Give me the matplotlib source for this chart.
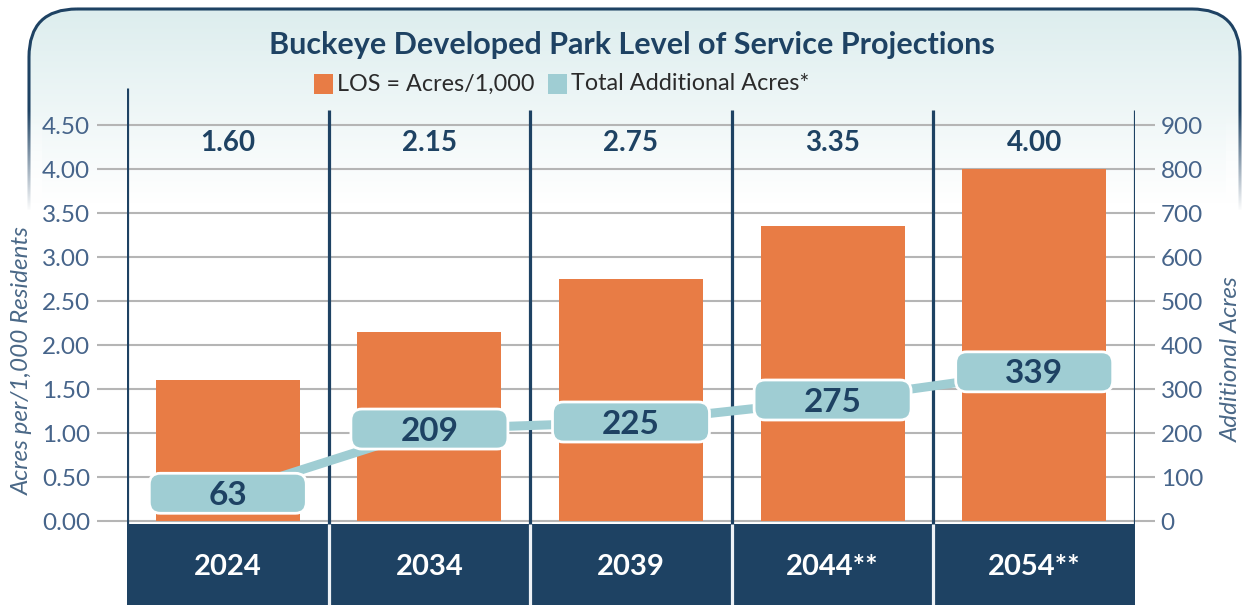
import matplotlib
matplotlib.use("Agg")
import matplotlib.pyplot as plt
import numpy as np
from matplotlib.patches import FancyBboxPatch, Rectangle

# ---- data -------------------------------------------------------------
years = ["2024", "2034", "2039", "2044**", "2054**"]
los_acres_per_1000 = [1.60, 2.15, 2.75, 3.35, 4.00]
total_additional_acres = [63, 209, 225, 275, 339]
left_ticks = [0.0, 0.5, 1.0, 1.5, 2.0, 2.5, 3.0, 3.5, 4.0, 4.5]
right_ticks = [0, 100, 200, 300, 400, 500, 600, 700, 800, 900]

title = "Buckeye Developed Park Level of Service Projections"
legend_los = "LOS = Acres/1,000"
legend_add = "Total Additional Acres*"
left_label = "Acres per/1,000 Residents"
right_label = "Additional Acres"

# ---- style ------------------------------------------------------------
NAVY = "#1e4263"
ORANGE = "#e87c45"
TEAL = "#9fcdd3"
GRID = "#b5b5b5"
TICK_TXT = "#46648a"
FONT = "Lato"

plt.rcParams["font.family"] = [FONT, "DejaVu Sans"]

W, H = 1244, 605
fig = plt.figure(figsize=(W / 100, H / 100), dpi=100)


def fx(px):
    return px / W


def fy(py):
    return 1 - py / H


# ---- rounded background panel with a soft top gradient ----------------
bg = fig.add_axes([0, 0, 1, 1], zorder=0)
bg.set_xlim(0, W)
bg.set_ylim(H, 0)
bg.axis("off")

top_col = np.array([0.865, 0.930, 0.933])
rows = np.arange(H)
t = np.clip((rows - 8) / 195.0, 0, 1)[:, None]
grad = top_col * (1 - t) + np.ones(3) * t
img = bg.imshow(grad[:, None, :], extent=[29, 1240, H, 0], aspect="auto",
                interpolation="bilinear", zorder=0)
panel_clip = FancyBboxPatch((29, 9), 1211, 800,
                            boxstyle="round,pad=0,rounding_size=48",
                            fc="none", ec="none", transform=bg.transData)
bg.add_patch(panel_clip)
img.set_clip_path(panel_clip)

border = FancyBboxPatch((29, 9), 1211, 800,
                        boxstyle="round,pad=0,rounding_size=48",
                        fc="none", ec=NAVY, lw=2.2, zorder=1)
bg.add_patch(border)

# fade the side edges of the border out towards the bottom
fade = np.ones((H, 1, 4))
fade[:, 0, 3] = np.clip((rows - 110) / 100.0, 0, 1)
for x0, x1 in [(18, 42), (1226, 1252)]:
    bg.imshow(fade, extent=[x0, x1, H, 0], aspect="auto",
              interpolation="bilinear", zorder=2)
bg.set_xlim(0, W)
bg.set_ylim(H, 0)

# ---- main axes ---------------------------------------------------------
px_zero, px_top_tick = 521, 125
unit_px = (px_zero - px_top_tick) / 4.5
y_lo = -(H - px_zero) / unit_px
y_hi = (px_zero - 88) / unit_px

ax = fig.add_axes([fx(127), fy(605), fx(1135) - fx(127), fy(88) - fy(605)],
                  zorder=2)
ax.patch.set_visible(False)
ax.set_xlim(-0.5, 4.5)
ax.set_ylim(y_lo, y_hi)
for s in ax.spines.values():
    s.set_visible(False)
ax.set_xticks([])

scale = right_ticks[-1] / left_ticks[-1]
ax2 = ax.twinx()
ax2.set_ylim(y_lo * scale, y_hi * scale)
for s in ax2.spines.values():
    s.set_visible(False)
ax2.set_xticks([])

ax.set_yticks(left_ticks)
ax.set_yticklabels([f"{v:.2f}" for v in left_ticks])
ax.tick_params(axis="y", length=21.6, width=1.5, color=GRID, pad=5,
               labelsize=17.5, labelcolor=TICK_TXT)
ax2.set_yticks(right_ticks)
ax2.set_yticklabels([str(v) for v in right_ticks])
ax2.tick_params(axis="y", length=14.4, width=1.5, color=GRID, pad=4,
                labelsize=17.5, labelcolor=TICK_TXT)

for v in left_ticks:
    ax.axhline(v, color=GRID, lw=1.5, zorder=1)

x = np.arange(len(years))

# bars
ax.bar(x, los_acres_per_1000, width=0.715, color=ORANGE, zorder=2)

# value labels above each column
label_y = (px_zero - 143) / unit_px
for xi, v in zip(x, los_acres_per_1000):
    ax.text(xi, label_y, f"{v:.2f}", ha="center", va="center",
            fontsize=20, fontweight="bold", color=NAVY, zorder=6)

# column dividers
bounds = np.arange(-0.5, len(years) + 0.5, 1.0)
div_top = (px_zero - 110) / unit_px
band_top = -(524 - px_zero) / unit_px
ax.vlines(bounds[1:], band_top, div_top, color=NAVY, lw=2.3, zorder=3)
ax.vlines(bounds[:1], band_top, y_hi, color=NAVY, lw=2.3, zorder=3)

# year band along the bottom
ax.add_patch(Rectangle((-0.5, y_lo), len(years), band_top - y_lo,
                       fc=NAVY, ec="none", zorder=4))
ax.vlines(bounds[1:-1], y_lo, band_top, color="#eef2f6", lw=2.3, zorder=5)
year_y = -(567 - px_zero) / unit_px
for xi, yr in zip(x, years):
    ax.text(xi, year_y, yr, ha="center", va="center", fontsize=21,
            fontweight="bold", color="white", zorder=6)

# additional acres line with rounded value boxes
ax2.plot(x, total_additional_acres, color=TEAL, lw=6.5, zorder=3,
         solid_capstyle="butt")

fig.canvas.draw()
bbox = ax.get_window_extent()
px_per_x = bbox.width / 5.0
ylo2, yhi2 = ax2.get_ylim()
px_per_y2 = bbox.height / (yhi2 - ylo2)
box_w = 157 / px_per_x
box_h = 40 / px_per_y2
for xi, v in zip(x, total_additional_acres):
    ax2.add_patch(FancyBboxPatch(
        (xi - box_w / 2, v - box_h / 2), box_w, box_h,
        boxstyle=f"round,pad=0,rounding_size={11 / px_per_x}",
        mutation_aspect=px_per_x / px_per_y2,
        fc=TEAL, ec="white", lw=2.0, zorder=4))
    ax2.text(xi, v - 2 / px_per_y2, str(v), ha="center", va="center",
             fontsize=24, fontweight="bold", color=NAVY, zorder=5)

# ---- titles, legend, axis names ---------------------------------------
fig.text(fx(632), fy(45), title, ha="center", va="center", fontsize=22,
         fontweight="bold", color=NAVY)

leg_y = 84
fig.patches.append(Rectangle((fx(314), fy(leg_y + 9.5)), 19 / W, 19 / H,
                             transform=fig.transFigure, fc=ORANGE, ec="none"))
fig.text(fx(337), fy(leg_y), legend_los, ha="left", va="center",
         fontsize=16.8, color="#2b2b2b")
fig.patches.append(Rectangle((fx(548), fy(leg_y + 9.5)), 19 / W, 19 / H,
                             transform=fig.transFigure, fc=TEAL, ec="none"))
fig.text(fx(571), fy(leg_y), legend_add, ha="left", va="center",
         fontsize=16.8, color="#2b2b2b")

fig.text(fx(22), fy(361), left_label, rotation=90, ha="center", va="center",
         fontsize=17.5, style="italic", color="#4a6887")
fig.text(fx(1231), fy(359), right_label, rotation=90, ha="center",
         va="center", fontsize=17.5, style="italic", color="#4a6887")

fig.savefig("out.png", dpi=100)
